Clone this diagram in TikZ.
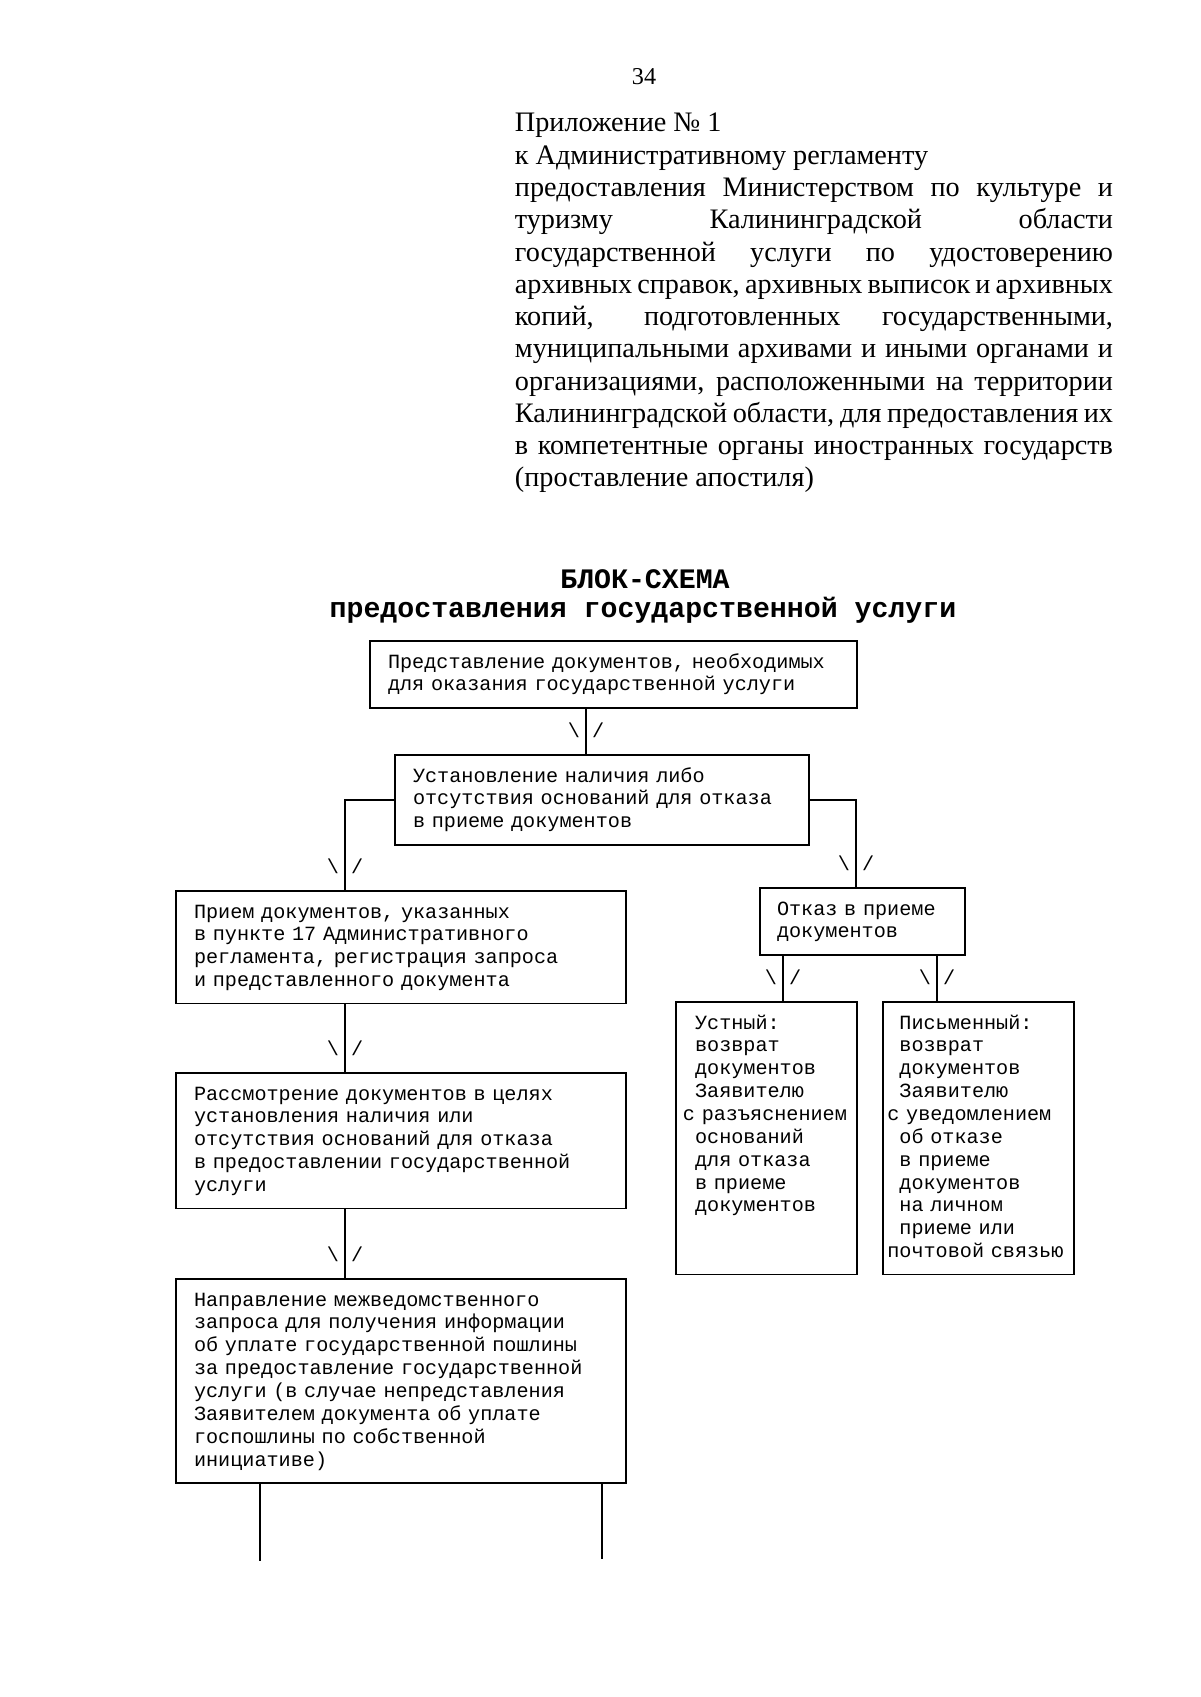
\documentclass[tikz,border=0pt]{standalone}
\usepackage{fontspec}
\setmainfont{Liberation Serif}
\setmonofont{Liberation Mono}
\usetikzlibrary{positioning}

\newcommand{\lpad}{\hspace*{6pt}}

\begin{document}
\begin{tikzpicture}[x=0.49607pt, y=-0.49607pt, line width=0.9pt,
    blk/.style={draw, anchor=north west, align=left, inner ysep=0pt, inner xsep=9pt, text height=13.5pt,
        font=\ttfamily\fontsize{10pt}{11.33pt}\selectfont},
    tipmark/.style={inner sep=0pt, anchor=base, yshift=8.4pt, font=\ttfamily\fontsize{10pt}{11.33pt}\selectfont},
    ttl/.style={inner sep=0pt, anchor=base, font=\ttfamily\bfseries\fontsize{14pt}{15pt}\selectfont}]
    \useasboundingbox (0,0) rectangle (1200,1697);

    % header
    \node[anchor=base, inner sep=0pt, font=\fontsize{12pt}{14pt}\selectfont] (pgnum) at (644,85) {34};
    \node[anchor=base west, inner sep=0pt, text width=296.7pt, align=justify,
        font=\fontsize{14pt}{16pt}\selectfont] (annex) at (514,132)
        {Приложение №~1\\
        к Административному регламенту\\
        предоставления Министерством по культуре и\linebreak
        туризму Калининградской области\linebreak
        государственной услуги по удостоверению\linebreak
        архивных справок, архивных выписок и архивных\linebreak
        копий, подготовленных государственными,\linebreak
        муниципальными архивами и иными органами и\linebreak
        организациями, расположенными на территории\linebreak
        Калининградской области, для предоставления их\linebreak
        в компетентные органы иностранных государств\linebreak
        (проставление апостиля)};

    \node[ttl] (title) at (645,588) {БЛОК-СХЕМА};
    \node[ttl] (subtitle) at (643,617) {предоставления государственной услуги};

    % columns of the connectors
    \coordinate (cM) at (586,0);
    \coordinate (cL) at (345,0);
    \coordinate (cR) at (856,0);
    \coordinate (cO) at (783,0);
    \coordinate (cW) at (937,0);
    \coordinate (endL) at (260,1561);
    \coordinate (endR) at (602,1559);

    % boxes
    \node[blk, text width=223.6pt, text depth=19.73pt] (submit) at (369,640)
        {Представление документов, необходимых\\для оказания государственной услуги};
    \node[blk, text width=187.4pt, text depth=31.06pt] (check) at (394,754)
        {Установление наличия либо\\отсутствия оснований для отказа\\в приеме документов};
    \node[blk, text width=205.2pt, text depth=42.39pt] (accept) at (175,890)
        {Прием документов, указанных\\в пункте 17 Административного\\регламента, регистрация запроса\\и представленного документа};
    \node[blk, text width=205.2pt, text depth=53.72pt] (review) at (175,1072)
        {Рассмотрение документов в целях\\установления наличия или\\отсутствия оснований для отказа\\в предоставлении государственной\\услуги};
    \node[blk, text width=205.2pt, text depth=87.71pt] (request) at (175,1278)
        {Направление межведомственного\\запроса для получения информации\\об уплате государственной пошлины\\за предоставление государственной\\услуги (в случае непредставления\\Заявителем документа об уплате\\госпошлины по собственной\\инициативе)};
    \node[blk, inner xsep=8.5pt, text width=84.7pt, text depth=19.73pt] (refuse) at (759,887)
        {Отказ в приеме\\документов};
    \node[blk, inner xsep=3.5pt, text width=82.8pt, text depth=121.7pt] (oral) at (675,1001)
        {\lpad Устный:\\\lpad возврат\\\lpad документов\\\lpad Заявителю\\с разъяснением\\\lpad оснований\\\lpad для отказа\\\lpad в приеме\\\lpad документов};
    \node[blk, inner xsep=2.2pt, text width=90.35pt, text depth=121.7pt] (written) at (882,1001)
        {\lpad Письменный:\\\lpad возврат\\\lpad документов\\\lpad Заявителю\\с уведомлением\\\lpad об отказе\\\lpad в приеме\\\lpad документов\\\lpad на личном\\\lpad приеме или\\почтовой связью};

    % connectors
    \draw (submit.south -| cM) -- (check.north -| cM);
    \draw (check.west) -| (accept.north -| cL);
    \draw (check.east) -| (refuse.north -| cR);
    \draw (accept.south -| cL) -- (review.north -| cL);
    \draw (review.south -| cL) -- (request.north -| cL);
    \draw (refuse.south -| cO) -- (oral.north -| cO);
    \draw (refuse.south -| cW) -- (written.north -| cW);
    \draw (request.south -| endL) -- (endL);
    \draw (request.south -| endR) -- (endR);

    % arrow marks
    \node[tipmark] (tip1) at (check.north -| cM) {\textbackslash\ /};
    \node[tipmark] (tip2) at (accept.north -| cL) {\textbackslash\ /};
    \node[tipmark] (tip3) at (refuse.north -| cR) {\textbackslash\ /};
    \node[tipmark] (tip4) at (review.north -| cL) {\textbackslash\ /};
    \node[tipmark] (tip5) at (request.north -| cL) {\textbackslash\ /};
    \node[tipmark] (tip6) at (oral.north -| cO) {\textbackslash\ /};
    \node[tipmark] (tip7) at (written.north -| cW) {\textbackslash\ /};
\end{tikzpicture}
\end{document}
